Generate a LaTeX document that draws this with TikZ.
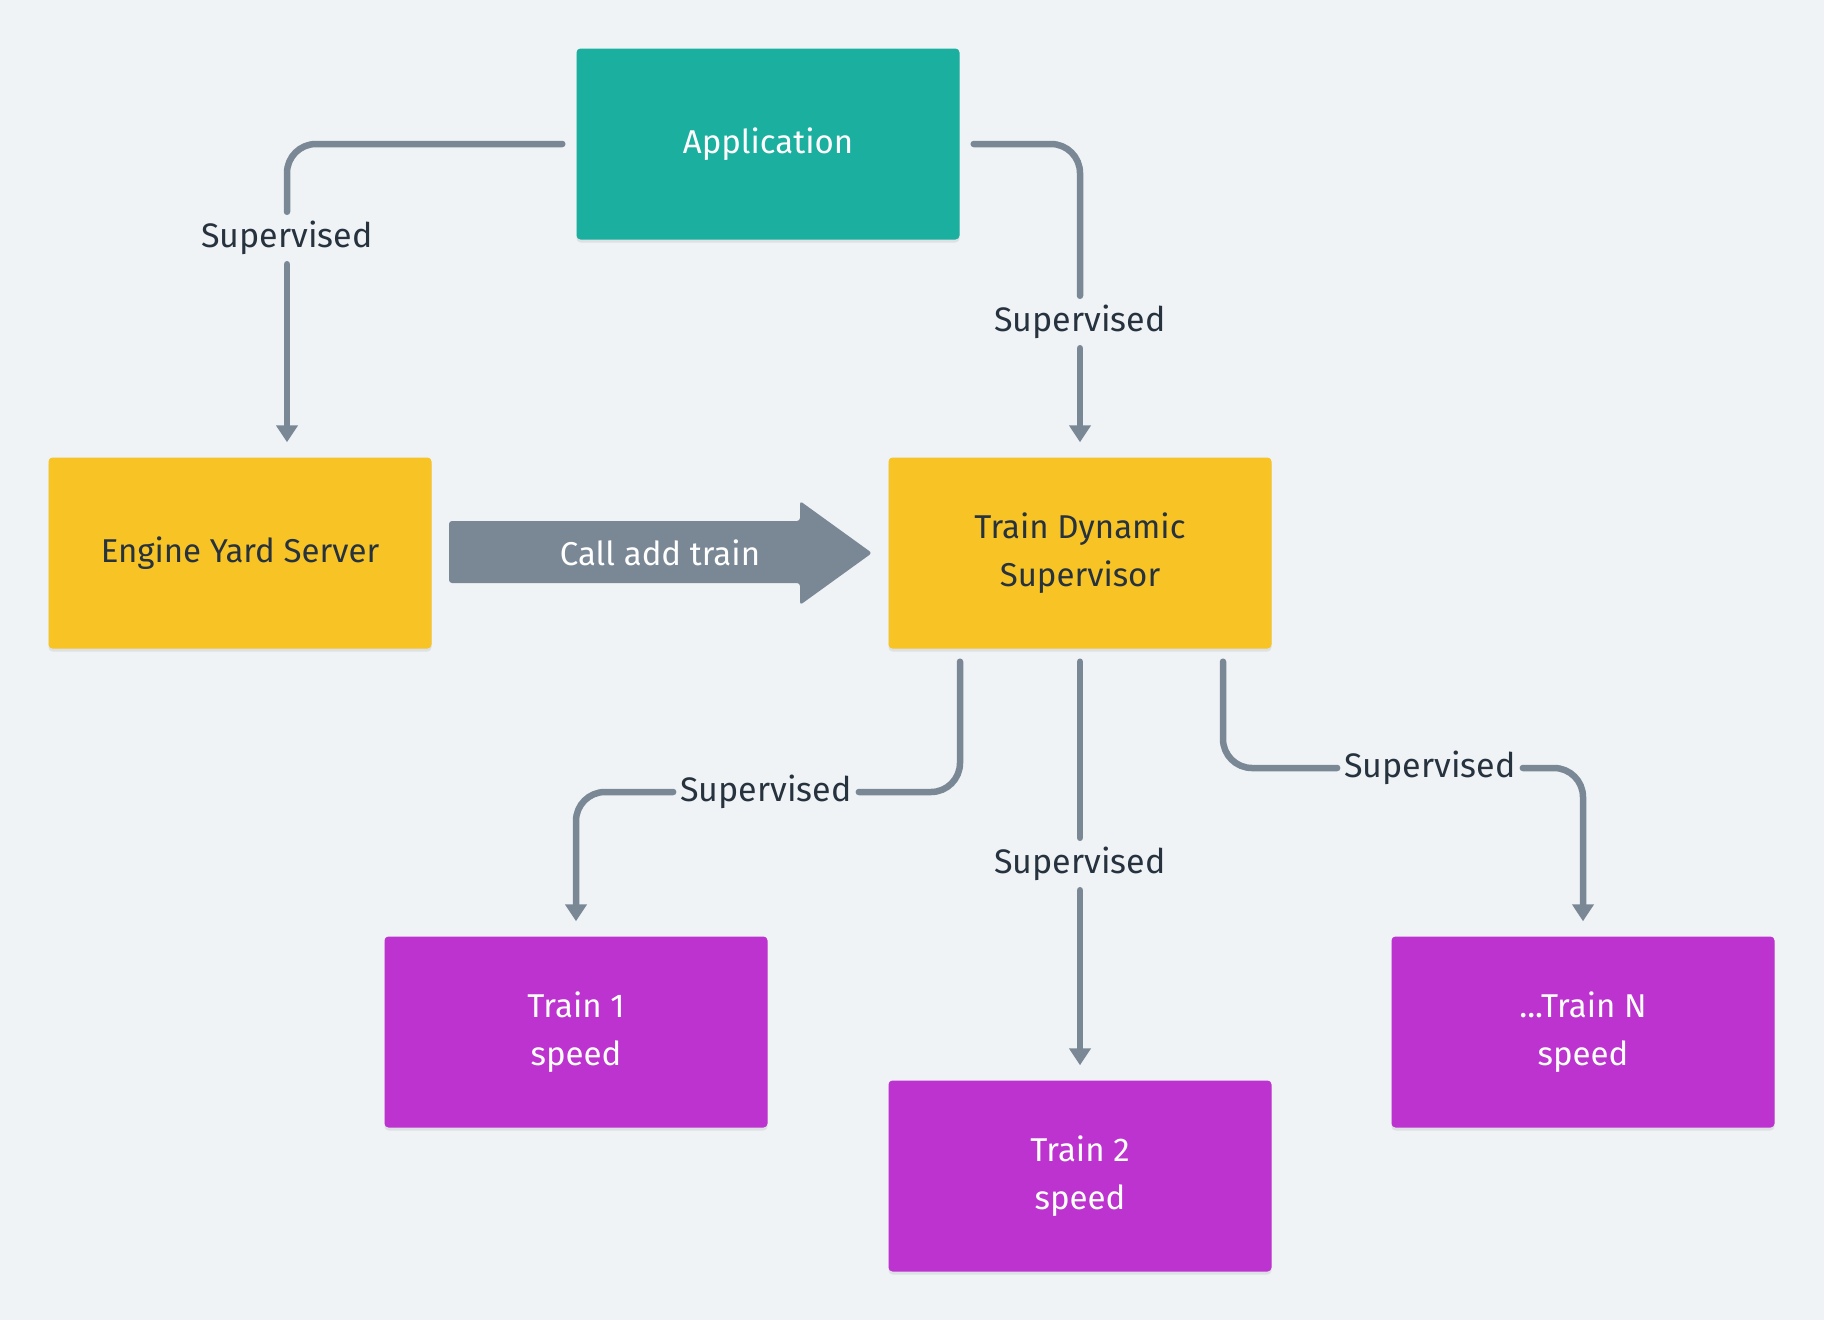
\documentclass[tikz,border=0pt]{standalone}
\usepackage{fontspec}
\setmainfont{Fira Sans}
\usetikzlibrary{arrows.meta,shadows}
\definecolor{bg}{HTML}{EFF3F6}
\definecolor{teal}{HTML}{1BAF9F}
\definecolor{yel}{HTML}{F7C325}
\definecolor{purp}{HTML}{BC33CF}
\definecolor{lgray}{HTML}{7A8896}
\definecolor{ink}{HTML}{27323F}
\begin{document}
\begin{tikzpicture}[x=1pt,y=-1pt,
  box/.style={minimum width=383pt, minimum height=191pt, rounded corners=4pt, inner sep=0pt,
    align=center, font=\fontsize{33}{48}\selectfont,
    drop shadow={shadow xshift=0pt, shadow yshift=-3pt, opacity=.07, fill=black}},
  appbox/.style={box, fill=teal, text=white},
  ybox/.style={box, fill=yel, text=ink},
  pbox/.style={box, fill=purp, text=white},
  lab/.style={font=\fontsize{34}{40}\selectfont, text=ink, inner xsep=7pt, inner ysep=0pt, minimum height=52pt},
  conn/.style={draw=lgray, line width=6.5pt, line cap=round, rounded corners=29pt},
  arr/.style={conn, -{Triangle[width=21pt,length=17pt]}, shorten >=15pt},
]
\fill[bg] (0,0) rectangle (1824,1320);
\useasboundingbox (0,0) rectangle (1824,1320);

\node[appbox] (app) at (768,144) {Application};
\node[ybox] (eng) at (240,553) {Engine Yard Server};
\node[ybox] (tds) at (1080,553) {Train Dynamic\\Supervisor};
\node[pbox] (t1) at (576,1032) {Train 1\\speed};
\node[pbox] (t2) at (1080,1176) {Train 2\\speed};
\node[pbox] (tn) at (1583,1032) {...Train N\\speed};

\node[lab] (l1) at (287,238) {Supervised};
\node[lab] (l2) at (1080,322) {Supervised};
\node[lab] (l4) at (766,792) {Supervised};
\node[lab] (l5) at (1080,864) {Supervised};
\node[lab] (l6) at (1430,768) {Supervised};

% Application -> Engine Yard Server
\draw[conn, shorten <=14pt] (app.west) -| (l1.north);
\draw[arr] (l1.south) -- (l1.south |- eng.north);
% Application -> Train Dynamic Supervisor
\draw[conn, shorten <=14pt] (app.east) -| (l2.north);
\draw[arr] (l2.south) -- (tds.north);
% TDS -> Train 1
\draw[conn, shorten <=13pt] ([xshift=-120pt]tds.south) |- (l4.east);
\draw[arr] (l4.west) -| (t1.north);
% TDS -> Train 2
\draw[conn, shorten <=13pt] (tds.south) -- (l5.north);
\draw[arr] (l5.south) -- (t2.north);
% TDS -> Train N
\draw[conn, shorten <=13pt] ([xshift=143pt]tds.south) |- (l6.west);
\draw[arr] (l6.east) -| (tn.north);

% Call add train big arrow
\fill[lgray, rounded corners=3pt] (449,521) -- (800,521) -- (800,501) -- (872,553) -- (800,605) -- (800,583) -- (449,583) -- cycle;
\node[font=\fontsize{33}{40}\selectfont, text=white] (call) at (660,553) {Call add train};
\end{tikzpicture}
\end{document}
